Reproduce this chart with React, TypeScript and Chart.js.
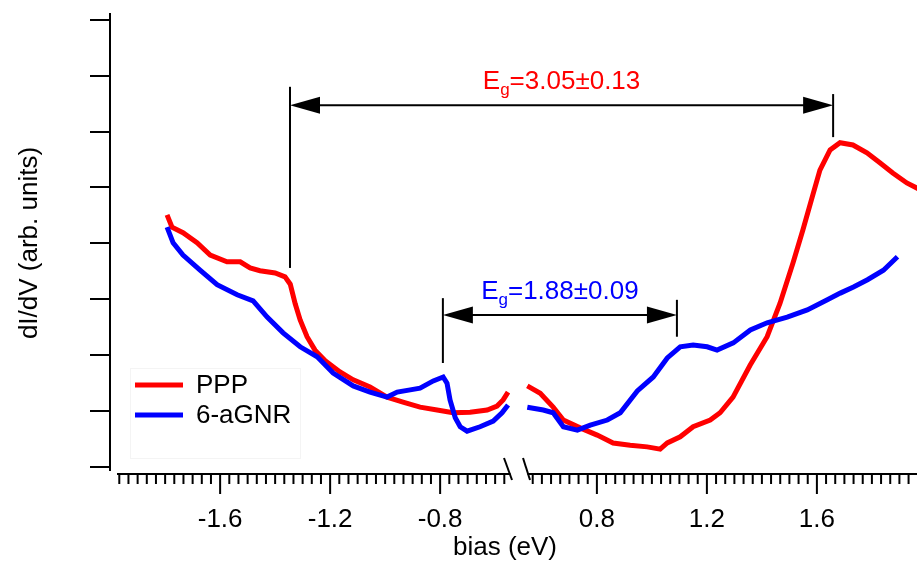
import React, { useEffect, useRef } from "react";
import { Chart, registerables } from "chart.js";

Chart.register(...registerables);

// ---------- data (bias in eV, dI/dV in arb. units) ----------
const pppLeftBias = [-1.793, -1.775, -1.735, -1.684, -1.636, -1.575, -1.527, -1.491, -1.455, -1.4, -1.364, -1.345, -1.327, -1.309, -1.284, -1.255, -1.218, -1.164, -1.116, -1.055, -0.993, -0.935, -0.873, -0.811, -0.753, -0.691, -0.629, -0.593, -0.571, -0.553];
const pppLeftDidv = [4.51, 4.29, 4.19, 4.01, 3.79, 3.67, 3.67, 3.56, 3.51, 3.47, 3.4, 3.27, 2.92, 2.63, 2.33, 2.09, 1.9, 1.7, 1.56, 1.43, 1.25, 1.16, 1.07, 1.02, 0.97, 0.98, 1.02, 1.09, 1.2, 1.34];

const pppRightBias = [0.547, 0.594, 0.641, 0.678, 0.739, 0.801, 0.859, 0.921, 0.983, 1.03, 1.056, 1.103, 1.15, 1.212, 1.248, 1.295, 1.357, 1.419, 1.466, 1.513, 1.549, 1.586, 1.611, 1.648, 1.684, 1.731, 1.782, 1.829, 1.876, 1.927, 1.971];
const pppRightDidv = [1.45, 1.32, 1.07, 0.84, 0.7, 0.57, 0.43, 0.39, 0.36, 0.32, 0.43, 0.54, 0.72, 0.84, 0.97, 1.25, 1.82, 2.33, 2.93, 3.65, 4.24, 4.88, 5.31, 5.67, 5.8, 5.76, 5.62, 5.44, 5.26, 5.08, 4.97];

const gnrLeftBias = [-1.793, -1.771, -1.735, -1.673, -1.611, -1.538, -1.48, -1.429, -1.371, -1.309, -1.247, -1.189, -1.116, -1.055, -0.993, -0.956, -0.909, -0.873, -0.825, -0.789, -0.775, -0.764, -0.745, -0.727, -0.702, -0.655, -0.607, -0.575, -0.553];
const gnrLeftDidv = [4.29, 4.01, 3.79, 3.52, 3.26, 3.08, 2.97, 2.68, 2.4, 2.15, 1.97, 1.68, 1.45, 1.34, 1.25, 1.34, 1.38, 1.41, 1.54, 1.61, 1.5, 1.2, 0.88, 0.72, 0.64, 0.72, 0.82, 0.97, 1.11];

const gnrRightBias = [0.547, 0.605, 0.641, 0.678, 0.729, 0.776, 0.838, 0.885, 0.947, 1.005, 1.056, 1.103, 1.15, 1.201, 1.237, 1.296, 1.358, 1.419, 1.492, 1.565, 1.638, 1.685, 1.733, 1.784, 1.842, 1.893];
const gnrRightDidv = [1.07, 1.02, 0.97, 0.72, 0.66, 0.75, 0.84, 0.97, 1.36, 1.61, 1.95, 2.15, 2.18, 2.15, 2.09, 2.22, 2.45, 2.58, 2.68, 2.81, 2.99, 3.11, 3.22, 3.35, 3.52, 3.76];

// axis ranges / ticks
const leftRange = [-1.975, -0.515];
const rightRange = [0.515, 1.964];
const yRange = [0, 8.12];
const yTickValues = [0, 1, 2, 3, 4, 5, 6, 7, 8];
const xMajorTicks = [-1.6, -1.2, -0.8, 0.8, 1.2, 1.6];
const xTickLabels = ["-1.6", "-1.2", "-0.8", "0.8", "1.2", "1.6"];
const minorPerUnit = 30;
const minorPerMajor = 12;

// band-gap annotations
const gapValues = ["3.05±0.13", "1.88±0.09"];
const gapColors = ["#ff0000", "#0000ff"];
const gapLeft = [-1.346, -0.79];
const gapRight = [1.659, 1.091];
const gapArrowY = [6.47, 2.72];
const gapLeftTop = [6.8, 3.02];
const gapLeftBottom = [3.56, 1.86];
const gapRightTop = [6.67, 2.99];
const gapRightBottom = [5.9, 2.33];

const seriesNames = ["PPP", "6-aGNR"];
const seriesColors = ["#ff0000", "#0000ff"];

const FONT = '"Liberation Sans", Arial, Helvetica, sans-serif';

const toPoints = (xs: number[], ys: number[]) => xs.map((x, i) => ({ x, y: ys[i] }));

const brokenAxisPlugin = {
  id: "brokenAxis",
  afterDraw(chart: any) {
    const { ctx, chartArea: ca, scales } = chart;
    const xL = scales.xL;
    const xR = scales.xR;
    const ys = scales.y;
    const px = (v: number) => (v < 0 ? xL : xR).getPixelForValue(v);
    const py = (v: number) => ys.getPixelForValue(v);
    ctx.save();
    ctx.lineCap = "butt";
    ctx.strokeStyle = "#000";
    ctx.fillStyle = "#000";
    ctx.lineWidth = 2;
    const seg = (x1: number, y1: number, x2: number, y2: number) => {
      ctx.beginPath();
      ctx.moveTo(x1, y1);
      ctx.lineTo(x2, y2);
      ctx.stroke();
    };

    // y axis
    const yAxisX = ca.left - 7;
    seg(yAxisX, ca.top, yAxisX, py(0) + 4);
    for (const t of yTickValues) {
      const p = Math.round(py(t));
      seg(yAxisX - 20, p, yAxisX, p);
    }

    // x axis with break
    const axisY = ca.bottom + 7;
    const brk = xL.right;
    seg(ca.left, axisY, brk - 8, axisY);
    seg(brk + 9, axisY, ca.right, axisY);
    const drawTicks = (scale: any, lo: number, hi: number) => {
      const k0 = Math.ceil(scale.min * minorPerUnit - 1e-9);
      const k1 = Math.floor(scale.max * minorPerUnit + 1e-9);
      for (let k = k0; k <= k1; k++) {
        const p = scale.getPixelForValue(k / minorPerUnit);
        if (p < lo || p > hi) continue;
        const major = k % minorPerMajor === 0;
        seg(p, axisY, p, axisY + (major ? 20 : 10));
      }
    };
    drawTicks(xL, ca.left, brk - 9);
    drawTicks(xR, brk + 10, ca.right);
    // break marks
    seg(brk - 14.5, axisY - 16, brk - 6.5, axisY + 6);
    seg(brk + 4.5, axisY - 16, brk + 11.5, axisY + 6);

    // tick labels
    ctx.font = `26px ${FONT}`;
    ctx.textAlign = "center";
    ctx.textBaseline = "alphabetic";
    xMajorTicks.forEach((v, i) => ctx.fillText(xTickLabels[i], px(v), 527));

    // axis titles
    ctx.fillText("bias (eV)", 505, 555);
    ctx.save();
    ctx.translate(37, 243);
    ctx.rotate(-Math.PI / 2);
    ctx.fillText("dI/dV (arb. units)", 0, 0);
    ctx.restore();

    // band-gap arrows
    const head = (x: number, y: number, dir: number) => {
      ctx.beginPath();
      ctx.moveTo(x, y);
      ctx.lineTo(x + dir * 30, y - 8.5);
      ctx.lineTo(x + dir * 30, y + 8.5);
      ctx.closePath();
      ctx.fill();
    };
    const drawEg = (value: string, cx: number, baseline: number, color: string) => {
      const big = `26px ${FONT}`;
      const small = `17px ${FONT}`;
      ctx.font = big;
      const wE = ctx.measureText("E").width;
      const wRest = ctx.measureText("=" + value).width;
      ctx.font = small;
      const wg = ctx.measureText("g").width;
      let x = cx - (wE + wg + wRest) / 2;
      ctx.fillStyle = color;
      ctx.textAlign = "left";
      ctx.font = big;
      ctx.fillText("E", x, baseline);
      x += wE;
      ctx.font = small;
      ctx.fillText("g", x, baseline + 6);
      x += wg;
      ctx.font = big;
      ctx.fillText("=" + value, x, baseline);
    };
    gapValues.forEach((val, i) => {
      const x1 = px(gapLeft[i]);
      const x2 = px(gapRight[i]);
      const ay = py(gapArrowY[i]);
      ctx.strokeStyle = "#000";
      ctx.fillStyle = "#000";
      ctx.lineWidth = 2;
      seg(x1, py(gapLeftTop[i]), x1, py(gapLeftBottom[i]));
      seg(x2, py(gapRightTop[i]), x2, py(gapRightBottom[i]));
      seg(x1 + 10, ay, x2 - 10, ay);
      head(x1, ay, 1);
      head(x2, ay, -1);
      drawEg(val, (x1 + x2) / 2, ay - 16, gapColors[i]);
    });

    // legend
    ctx.strokeStyle = "#f4f4f4";
    ctx.lineWidth = 1;
    ctx.strokeRect(130.5, 368.5, 170, 90);
    ctx.font = `26px ${FONT}`;
    ctx.textAlign = "left";
    seriesNames.forEach((name, i) => {
      const ly = 385 + i * 30;
      ctx.strokeStyle = seriesColors[i];
      ctx.lineWidth = 5;
      seg(135, ly, 183, ly);
      ctx.fillStyle = "#000";
      ctx.fillText(name, 196, ly + 8);
    });
    ctx.restore();
  },
};

export default function App() {
  const ref = useRef<HTMLCanvasElement>(null);
  useEffect(() => {
    const canvas = ref.current;
    if (!canvas) return;
    const common = { pointRadius: 0, borderWidth: 5, tension: 0, fill: false, yAxisID: "y" };
    const chart = new Chart(canvas, {
      type: "line",
      data: {
        datasets: [
          { ...common, label: "PPP", data: toPoints(pppLeftBias, pppLeftDidv), borderColor: seriesColors[0], xAxisID: "xL", order: 1 },
          { ...common, label: "PPP", data: toPoints(pppRightBias, pppRightDidv), borderColor: seriesColors[0], xAxisID: "xR", order: 1 },
          { ...common, label: "6-aGNR", data: toPoints(gnrLeftBias, gnrLeftDidv), borderColor: seriesColors[1], xAxisID: "xL", order: 0 },
          { ...common, label: "6-aGNR", data: toPoints(gnrRightBias, gnrRightDidv), borderColor: seriesColors[1], xAxisID: "xR", order: 0 },
        ],
      } as any,
      options: {
        animation: false,
        responsive: false,
        devicePixelRatio: 1,
        layout: { padding: { left: 117, right: 0, top: 13, bottom: 95 } },
        plugins: { legend: { display: false }, tooltip: { enabled: false } },
        scales: {
          xL: {
            type: "linear",
            position: "bottom",
            stack: "xbroken",
            stackWeight: leftRange[1] - leftRange[0],
            weight: 0,
            min: leftRange[0],
            max: leftRange[1],
            display: false,
          },
          xR: {
            type: "linear",
            position: "bottom",
            stack: "xbroken",
            stackWeight: rightRange[1] - rightRange[0],
            weight: 1,
            min: rightRange[0],
            max: rightRange[1],
            display: false,
          },
          y: { type: "linear", min: yRange[0], max: yRange[1], display: false },
        },
      } as any,
      plugins: [brokenAxisPlugin],
    });
    return () => chart.destroy();
  }, []);
  return (
    <div style={{ position: "fixed", left: 0, top: 0, width: 917, height: 562, background: "#fff" }}>
      <canvas ref={ref} width={917} height={562} style={{ display: "block" }} />
    </div>
  );
}
